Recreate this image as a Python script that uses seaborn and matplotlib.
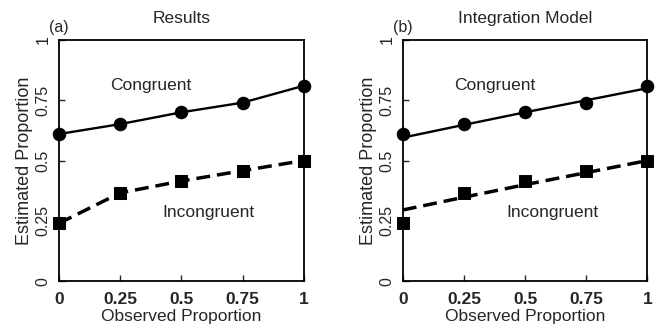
import numpy as np
import pandas as pd
import seaborn as sns
import matplotlib.pyplot as plt

# observed proportions (x) and estimated proportions (y)
observed = [0, 0.25, 0.5, 0.75, 1]
congruent_obs = [0.61, 0.651, 0.70, 0.74, 0.81]
incongruent_obs = [0.24, 0.366, 0.415, 0.458, 0.50]
# integration model predictions
congruent_model = [0.595, 0.648, 0.70, 0.75, 0.80]
incongruent_model = [0.295, 0.348, 0.40, 0.45, 0.50]

sns.set_style('ticks')
plt.rcParams['font.family'] = ['Liberation Sans', 'DejaVu Sans']

fig = plt.figure(figsize=(6.56, 3.30), dpi=100)
ax_a = fig.add_axes([0.09, 0.148, 0.373, 0.731])
ax_b = fig.add_axes([0.614, 0.148, 0.373, 0.731])

df = pd.DataFrame({'x': observed,
                   'cong': congruent_obs, 'incong': incongruent_obs,
                   'cong_m': congruent_model, 'incong_m': incongruent_model})

dash = (0, (4.0, 2.0))

# (a) results: lines through the data points
sns.lineplot(data=df, x='x', y='cong', ax=ax_a, color='black', lw=1.7,
             marker='o', markersize=9, markeredgecolor='black', clip_on=False)
sns.lineplot(data=df, x='x', y='incong', ax=ax_a, color='black', lw=2.5,
             marker='s', markersize=8.5, markeredgecolor='black', clip_on=False)
ax_a.lines[1].set_linestyle(dash)

# (b) integration model: model lines plus observed points
sns.lineplot(data=df, x='x', y='cong_m', ax=ax_b, color='black', lw=1.7, clip_on=False)
sns.lineplot(data=df, x='x', y='incong_m', ax=ax_b, color='black', lw=2.5, clip_on=False)
ax_b.lines[1].set_linestyle(dash)
sns.scatterplot(data=df, x='x', y='cong', ax=ax_b, color='black', marker='o',
                s=81, edgecolor='black', clip_on=False, zorder=3)
sns.scatterplot(data=df, x='x', y='incong', ax=ax_b, color='black', marker='s',
                s=72, edgecolor='black', clip_on=False, zorder=3)

for ax, title, tag in [(ax_a, 'Results', '(a)'), (ax_b, 'Integration Model', '(b)')]:
    ax.set_xlim(0, 1)
    ax.set_ylim(0, 1)
    ax.set_xticks(observed)
    ax.set_xticklabels(['0', '0.25', '0.5', '0.75', '1'], fontsize=12.5, fontweight='bold')
    ax.set_yticks([0, 0.25, 0.5, 0.75, 1])
    ax.set_yticklabels(['0', '0.25', '0.5', '0.75', '1'], fontsize=11.5,
                       rotation=90, va='center')
    ax.tick_params(direction='in', length=4, width=1)
    ax.tick_params(axis='x', pad=8)
    ax.tick_params(axis='y', pad=6)
    for s in ax.spines.values():
        s.set_visible(True)
        s.set_linewidth(1.3)
        s.set_color('black')
    ax.set_xlabel('Observed Proportion', fontsize=12.5, labelpad=1)
    ax.set_ylabel('Estimated Proportion', fontsize=13, labelpad=2)
    ax.set_title(title, fontsize=12.5, pad=12)
    ax.text(-0.04, 1.02, tag, transform=ax.transAxes, fontsize=11.5, ha='left', va='bottom')
    ax.text(0.375, 0.81, 'Congruent', fontsize=12.5, ha='center', va='center')
    ax.text(0.61, 0.285, 'Incongruent', fontsize=12.5, ha='center', va='center')

fig.savefig('out.png', dpi=100)
